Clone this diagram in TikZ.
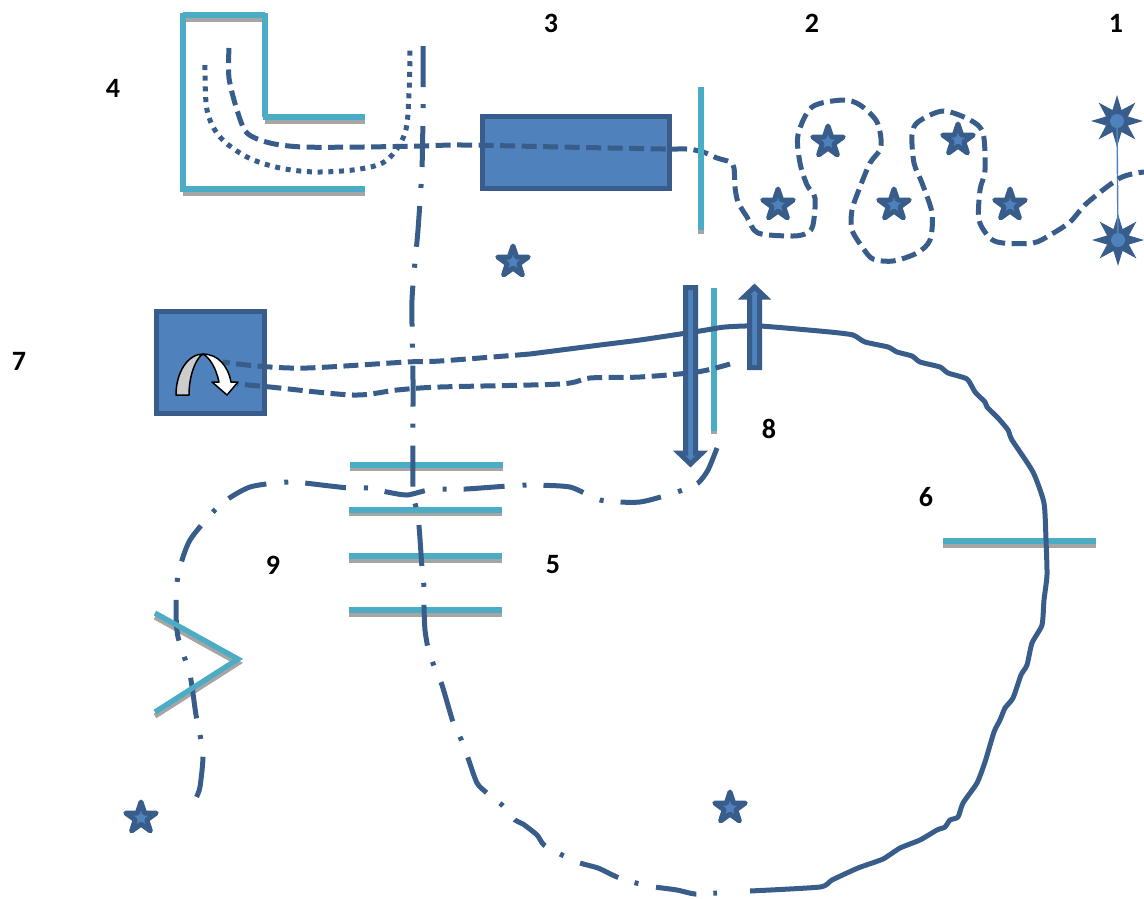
\documentclass[tikz,border=0pt]{standalone}
\usepackage{fontspec}
\setmainfont{Carlito}
\usetikzlibrary{shapes.geometric}
\definecolor{darkblue}{HTML}{385D8A}
\definecolor{midblue}{HTML}{4F81BD}
\definecolor{teal2}{HTML}{4BACC6}
\definecolor{shadowgrey}{HTML}{A5A5A5}
\tikzset{
  label8/.style={font=\bfseries\fontsize{28}{30}\selectfont,text=black,inner sep=0pt},
  smallstar/.style={star,star points=5,star point ratio=2.6,minimum size=32pt,inner sep=0pt,draw=darkblue,fill=midblue,line width=5pt,line join=round},
  bigstar/.style={star,star points=8,star point ratio=2.2,minimum size=52pt,inner sep=0pt,fill=darkblue},
  hub/.style={circle,minimum size=14pt,inner sep=0pt,fill=midblue},
  blockbox/.style={draw=darkblue,fill=midblue,line width=5pt,inner sep=0pt},
  beam/.style={draw=darkblue,line width=5pt,line join=round},
  dashbeam/.style={beam,dash pattern=on 15pt off 6.5pt},
  dotbeam/.style={beam,dash pattern=on 5pt off 5.7pt},
  dotdashbeam/.style={beam,dash pattern=on 41pt off 17pt on 4pt off 18pt},
  tealline/.style={draw=teal2,line width=5.2pt},
  greyline/.style={draw=shadowgrey,line width=5.2pt},
  block/.style={draw=darkblue,fill=midblue,line width=5pt,line join=miter},
  curl/.style={draw=black,line width=1.5pt,line join=round},
}
\begin{document}
\begin{tikzpicture}[x=1pt,y=-1pt]
\useasboundingbox (0,0) rectangle (1144,898);
% blocks
\node[blockbox,minimum width=187pt,minimum height=72pt] (crystal) at (575.5,152) {};
\node[blockbox,minimum width=108pt,minimum height=102pt] (square) at (210.5,362.5) {};
% shadows of mirrors
\draw[greyline] (183,19) -- (265,19);
\draw[greyline] (265,121) -- (365,121);
\draw[greyline] (183,193) -- (365,193);
\draw[greyline] (701,87) -- (701,234);
\draw[greyline] (714,288) -- (714,434);
\draw[greyline] (350,468) -- (503,468);
\draw[greyline] (349,513) -- (502,513);
\draw[greyline] (349,560) -- (502,560);
\draw[greyline] (349,614) -- (502,614);
\draw[greyline] (943,545) -- (1096,545);
\draw[greyline] (155,617) -- (238,663) -- (155,716);
% mirrors under the beams
\draw[tealline] (183,15) -- (265,15);
\draw[tealline] (183,13) -- (183,192);
\draw[tealline] (265,13) -- (265,117);
\draw[tealline] (263,117) -- (365,117);
\draw[tealline] (181,189) -- (365,189);
\draw[tealline] (714,288) -- (714,431);
\draw[tealline] (350,465) -- (503,465);
\draw[tealline] (349,510) -- (502,510);
\draw[tealline] (349,556) -- (502,556);
\draw[tealline] (349,610) -- (502,610);
\draw[tealline] (943,541) -- (1096,541);
% anchors
\coordinate (a1) at (229,48);
\coordinate (a2) at (1144,172);
\coordinate (b1) at (205,65);
\coordinate (b2) at (410,47);
\coordinate (c1) at (423,46);
\coordinate (c2) at (717,893);
\coordinate (c3) at (750,891);
\coordinate (d2) at (530,354);
\coordinate (e1) at (223,362);
\coordinate (f1) at (237,384);
\coordinate (f2) at (730,364);
\coordinate (g1) at (717,448);
\coordinate (g2) at (196,798);
% thin link
\node[bigstar] (s1) at (1117,121) {};
\node[bigstar] (s2) at (1118,240) {};
\draw[midblue,line width=1.4pt] (s1.center) -- (s2.center);
\node[hub] (h1) at (1117,121) {};
\node[hub] (h2) at (1118,240) {};
% beams
\draw[dashbeam] plot[smooth,tension=0.5] coordinates {(a1) (229,78) (237,110) (247,133) (270,143) (303,147) (363,147) (420,146) (463,145) (560,147) (663,149) (687,149) (703,152) (717,158) (730,162) (734,168) (735,187) (738,202) (747,217) (758,233) (793,236) (807,233) (813,225) (815,198) (807,185) (800,163) (798,135) (812,107) (843,100) (860,105) (877,122) (881,147) (870,163) (860,187) (852,210) (852,230) (863,248) (873,259) (893,261) (917,253) (930,240) (932,213) (922,183) (914,163) (912,135) (918,122) (943,111) (970,120) (983,133) (985,170) (980,190) (979,220) (990,238) (1003,243) (1033,243) (1050,235) (1070,222) (1087,203) (1120,178) (a2)};
\draw[dotbeam] plot[smooth,tension=0.55] coordinates {(b1) (207,110) (220,137) (247,157) (280,168) (317,172) (360,169) (387,160) (405,133) (409,93) (b2)};
\draw[dotdashbeam] plot[smooth,tension=0.4] coordinates {(c1) (423,110) (422,168) (418,230) (412,300) (413,380) (413,488) (416,507) (419,526) (422,568) (424,587) (424,607) (425,630) (428,648) (434,666) (442,685) (453,722) (461,739) (468,758) (477,783) (487,793) (502,805) (515,820) (523,824) (537,835) (544,845) (562,855) (580,863) (598,868) (617,877) (636,883) (655,887) (677,890) (695,894) (c2)};
\draw[beam] plot[smooth,tension=0.35] coordinates {(c3) (820,887) (832,880) (858,868) (883,859) (900,848) (920,840) (937,830) (945,827) (950,820) (958,817) (963,803) (977,783) (985,762) (994,732) (1000,720) (1005,708) (1013,698) (1021,675) (1027,665) (1032,643) (1042,625) (1044,600) (1047,575) (1046,540) (1044,503) (1033,472) (1012,440) (1008,430) (998,418) (987,407) (985,402) (975,392) (967,379) (948,373) (940,367) (920,362) (912,356) (897,352) (888,347) (865,342) (853,335) (830,332) (760,326) (725,327) (700,331) (640,340) (600,345) (d2)};
\draw[dashbeam] plot[smooth,tension=0.5] coordinates {(d2) (440,361) (407,362) (307,368) (257,366) (e1)};
\draw[dashbeam] plot[smooth,tension=0.5] coordinates {(f2) (697,372) (640,377) (590,378) (560,384) (440,387) (397,390) (353,395) (270,387) (f1)};
\draw[dotdashbeam] plot[smooth,tension=0.4] coordinates {(g1) (708,470) (698,483) (680,491) (640,502) (600,500) (570,487) (527,485) (508,486) (466,489) (447,489) (428,490) (407,495) (387,492) (368,488) (349,488) (330,486) (290,482) (250,487) (220,505) (190,540) (178,575) (176,610) (178,637) (190,675) (196,715) (203,753) (200,787) (g2)};
% mirrors over the beams
\draw[tealline] (701,87) -- (701,230);
\draw[tealline,line join=miter] (155,613) -- (238,659) -- (155,712);
% stars
\node[smallstar] (st1) at (778,205) {};
\node[smallstar] (st2) at (828,142) {};
\node[smallstar] (st3) at (894,205) {};
\node[smallstar] (st4) at (958,140) {};
\node[smallstar] (st5) at (1010,205) {};
\node[smallstar] (st6) at (513,262) {};
\node[smallstar] (st7) at (141,818) {};
\node[smallstar] (st8) at (730,808) {};
% thick arrows
\draw[block] (685.5,287.5) -- (695.5,287.5) -- (695.5,453) -- (702,453) -- (690.5,464) -- (679,453) -- (685.5,453) -- cycle;
\draw[block] (749.5,367.5) -- (759.5,367.5) -- (759.5,297) -- (765,297) -- (754.5,287) -- (744,297) -- (749.5,297) -- cycle;
% curved arrow
\draw[curl,fill=black!20] (176,395) .. controls (176,372) and (188,354) .. (203,354) .. controls (196,358) and (189,375) .. (189,395) -- cycle;
\draw[curl,fill=white] (203,354) .. controls (218,354) and (228,366) .. (231,382) -- (238,382) -- (227,395) -- (212,382) -- (219,382) .. controls (216,368) and (210,358) .. (203,354) -- cycle;
% labels
\node[label8] (n1) at (1116,23) {1};
\node[label8] (n2) at (812,23) {2};
\node[label8] (n3) at (551,23) {3};
\node[label8] (n4) at (113,88) {4};
\node[label8] (n5) at (553,565) {5};
\node[label8] (n6) at (926,497) {6};
\node[label8] (n7) at (19,361) {7};
\node[label8] (n8) at (769,429) {8};
\node[label8] (n9) at (273,565) {9};
\end{tikzpicture}
\end{document}
